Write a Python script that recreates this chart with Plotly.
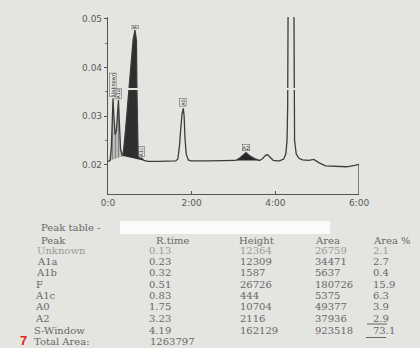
import plotly.graph_objects as go

# ---------------- data ----------------
# chromatogram trace (retention time in minutes, absorbance)
rt_trace = [0.00, 0.05, 0.08, 0.10, 0.12, 0.14, 0.17, 0.20, 0.22, 0.25, 0.27, 0.30, 0.33, 0.36,
            0.42, 0.48, 0.54, 0.60, 0.645, 0.68, 0.69, 0.70, 0.72, 0.76, 0.80, 0.86, 0.95,
            1.20, 1.55, 1.62, 1.67, 1.71, 1.74, 1.77, 1.80, 1.82, 1.84, 1.87, 1.92, 1.98,
            2.40, 2.90, 3.05, 3.15, 3.24, 3.30, 3.38, 3.50, 3.62, 3.70, 3.76, 3.81, 3.87, 3.95,
            4.05, 4.10, 4.20, 4.25, 4.28, 4.295, 4.37, 4.445, 4.46, 4.50, 4.57, 4.65,
            4.80, 4.92, 5.05, 5.20, 5.45, 5.70, 5.90, 6.00]
abs_trace = [0.0207, 0.0209, 0.0235, 0.0290, 0.0337, 0.0300, 0.0262, 0.0270, 0.0305, 0.0333, 0.0290, 0.0232, 0.0224, 0.0218,
             0.0272, 0.0333, 0.0395, 0.0457, 0.0477, 0.0455, 0.0350, 0.0250, 0.0218, 0.0213, 0.0214, 0.0209, 0.0207,
             0.0207, 0.0208, 0.0208, 0.0212, 0.0240, 0.0275, 0.0305, 0.0316, 0.0300, 0.0255, 0.0222, 0.0210, 0.0208,
             0.0208, 0.0209, 0.0209, 0.0214, 0.0221, 0.0225, 0.0219, 0.0213, 0.0209, 0.0213, 0.0219, 0.0221, 0.0216, 0.0209,
             0.0208, 0.0208, 0.0212, 0.0222, 0.0250, 0.0320, 0.1828, 0.0320, 0.0250, 0.0222, 0.0213, 0.0210,
             0.0209, 0.0211, 0.0204, 0.0198, 0.0197, 0.0196, 0.0199, 0.0201]

# integrated (shaded) windows, minutes
hatched_window = (0.05, 0.36)
dark_window = (0.36, 0.95)
a2_window = (3.05, 3.62)

# small peak labels on the chromatogram
label_names = ["Unknown", "A1a", "F", "A1c", "A0", "A2"]
label_rt = [0.11, 0.25, 0.655, 0.80, 1.79, 3.29]
label_abs = [0.0339, 0.0335, 0.0480, 0.0216, 0.0320, 0.0229]
label_angle = [-90, -90, -90, -90, -90, 0]

x_tick_vals = [0, 2, 4, 6]
x_tick_text = ["0:0", "2:00", "4:00", "6:00"]
y_tick_vals = [0.02, 0.03, 0.04, 0.05]

# peak table
peak_names = ["Unknown", "A1a", "A1b", "F", "A1c", "A0", "A2", "S-Window"]
r_time = ["0.13", "0.23", "0.32", "0.51", "0.83", "1.75", "3.23", "4.19"]
heights = [12364, 12309, 1587, 26726, 444, 10704, 2116, 162129]
areas = [26759, 34471, 5637, 180726, 5375, 49377, 37936, 923518]
area_pct = ["2.1", "2.7", "0.4", "15.9", "6.3", "3.9", "2.9", "73.1"]
total_area = 1263797
col_headers = ["Peak", "R.time", "Height", "Area", "Area %"]

# ---------------- layout helpers (pixel -> paper) ----------------
W, H = 420, 348
L, R, T, B = 108, 61, 17, 154
PW, PH = W - L - R, H - T - B


def px(x):
    return (x - L) / PW


def py(y):
    return (H - B - y) / PH


BG = "#e4e4e0"
LINE = "#3c3c3c"
TXT = "#686868"
FONT = "DejaVu Serif"


def window(lo, hi):
    xs = [t for t, v in zip(rt_trace, abs_trace) if lo <= t <= hi]
    ys = [v for t, v in zip(rt_trace, abs_trace) if lo <= t <= hi]
    return xs, ys


fig = go.Figure()

hx, hy = window(*hatched_window)
fig.add_trace(go.Scatter(x=hx, y=hy, mode="lines", fill="toself", line=dict(width=0),
                         fillcolor="rgba(110,110,110,0.45)",
                         fillpattern=dict(shape="|", fgcolor="#4a4a4a", bgcolor="rgba(150,150,150,0.4)",
                                          size=3, solidity=0.45),
                         hoverinfo="skip", showlegend=False))
dx, dy = window(*dark_window)
fig.add_trace(go.Scatter(x=dx, y=dy, mode="lines", fill="toself", line=dict(width=0),
                         fillcolor="#2e2e2e", hoverinfo="skip", showlegend=False))
ax_, ay_ = window(*a2_window)
fig.add_trace(go.Scatter(x=ax_, y=ay_, mode="lines", fill="toself", line=dict(width=0),
                         fillcolor="#262626", hoverinfo="skip", showlegend=False))

fig.add_trace(go.Scatter(x=rt_trace, y=abs_trace, mode="lines",
                         line=dict(color=LINE, width=1.3), showlegend=False,
                         name="Absorbance"))

annotations = []
for name, t, v, ang in zip(label_names, label_rt, label_abs, label_angle):
    annotations.append(dict(x=t, y=v, xref="x", yref="y", text=name, showarrow=False,
                            textangle=ang, xanchor="center", yanchor="bottom",
                            font=dict(family="DejaVu Sans", size=5, color="#333"),
                            bordercolor="#555", borderwidth=0.5, borderpad=0))

# peak table text
row_y = [250.5, 261.5, 272.5, 284, 295.5, 306.5, 318, 330.5]
header_y = 240
col_x = [39, 154, 237, 313, 371]
val_x = [None, 147, 238, 313, 371]


def add_text(x, y, text, color=TXT, size=10, family=FONT):
    annotations.append(dict(x=px(x), y=py(y), xref="paper", yref="paper", text=text,
                            showarrow=False, xanchor="left", yanchor="middle",
                            font=dict(family=family, size=size, color=color)))


add_text(39, 227.5, "Peak table -")
for cx, h in zip(col_x, col_headers):
    add_text(cx, header_y, h)
for i, name in enumerate(peak_names):
    y = row_y[i]
    colr = "#9a9a9a" if name == "Unknown" else TXT
    add_text(35 - i * 0.4, y, name, color=colr)
    add_text(val_x[1], y, r_time[i], color=colr)
    add_text(val_x[2], y, str(heights[i]), color=colr)
    add_text(val_x[3], y, str(areas[i]), color=colr)
    add_text(val_x[4], y, area_pct[i], color=colr)
add_text(32, 341, "Total Area:")
add_text(148, 341, str(total_area))
annotations.append(dict(x=px(18), y=py(340.5), xref="paper", yref="paper", text="<b>7</b>",
                        showarrow=False, xanchor="left", yanchor="middle",
                        font=dict(family="Liberation Sans", size=13, color="#e3241b")))

shapes = [
    # right edge of the chart frame
    dict(type="line", xref="x", yref="y", x0=rt_trace[-1], x1=rt_trace[-1],
         y0=0.0140, y1=abs_trace[-1], line=dict(color=LINE, width=1.2)),
    # white redaction box after "Peak table -"
    dict(type="rect", xref="paper", yref="paper", x0=px(120), x1=px(330), y0=py(234), y1=py(221),
         fillcolor="#fbfbfb", line=dict(width=0), layer="above"),
    # underlines in the Area % column
    dict(type="line", xref="paper", yref="paper", x0=px(367), x1=px(387), y0=py(324), y1=py(324),
         line=dict(color="#666", width=1)),
    dict(type="line", xref="paper", yref="paper", x0=px(366), x1=px(386), y0=py(337.5), y1=py(337.5),
         line=dict(color="#666", width=1)),
    # faint print streak across the chart
    dict(type="rect", xref="paper", yref="paper", x0=px(119), x1=px(356), y0=py(90), y1=py(88),
         fillcolor=BG, line=dict(width=0), layer="above"),
]

fig.update_layout(
    width=W, height=H,
    margin=dict(l=L, r=R, t=T, b=B, pad=0),
    paper_bgcolor=BG, plot_bgcolor=BG,
    showlegend=False,
    annotations=annotations,
    shapes=shapes,
    xaxis=dict(range=[0, 6], showgrid=False, zeroline=False, showline=True,
               linecolor="#555", linewidth=1.2, ticks="inside", ticklen=3, tickcolor="#555",
               tickvals=x_tick_vals, ticktext=x_tick_text,
               tickfont=dict(family="DejaVu Sans", size=9, color="#5a5a5a")),
    yaxis=dict(range=[0.0140, 0.0504], showgrid=False, zeroline=False, showline=True,
               linecolor="#555", linewidth=1.2, ticks="outside", ticklen=3, tickcolor="#555",
               tickvals=y_tick_vals, tickformat=".2f",
               minor=dict(ticks="outside", ticklen=2, tickcolor="#777",
                          tickvals=[0.025, 0.035, 0.045]),
               tickfont=dict(family="DejaVu Sans", size=9, color="#5a5a5a")),
)

fig.write_html(
    "out.html",
    config={"displayModeBar": False},
    post_script=("document.body.style.margin='0';document.body.style.padding='0';"
                 "document.body.style.overflow='hidden';"
                 "document.body.style.background='" + BG + "';"),
)
